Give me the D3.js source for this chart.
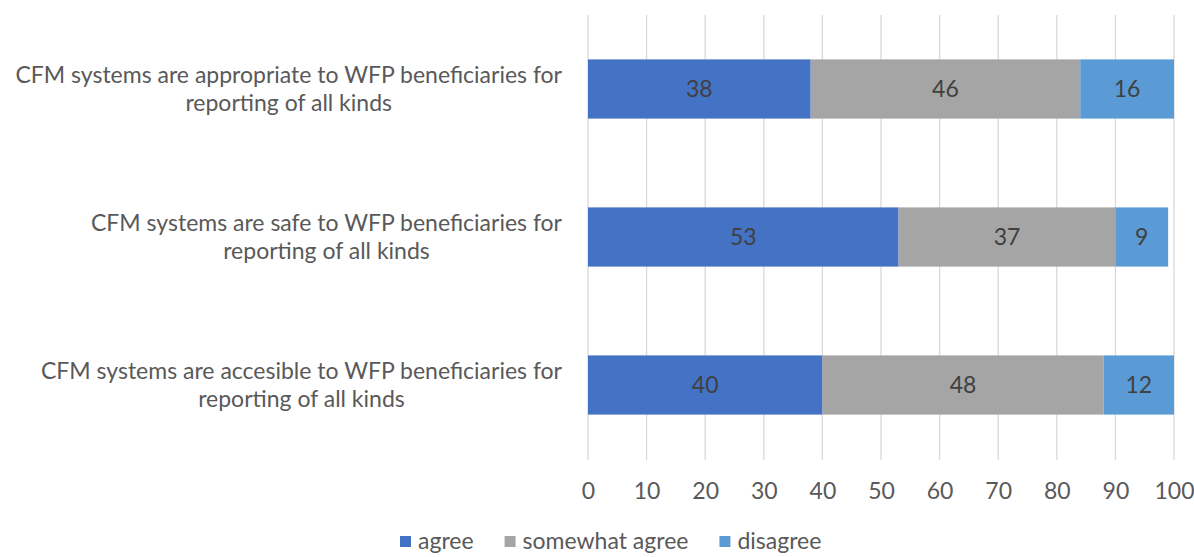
<!DOCTYPE html>
<html>
<head>
<meta charset="utf-8">
<script src="https://cdn.jsdelivr.net/npm/d3@7"></script>
<style>
  html, body { margin: 0; padding: 0; background: #fff; }
  svg { display: block; font-family: Lato, "Open Sans", sans-serif; }
</style>
</head>
<body>
<svg id="chart" width="1194" height="557"></svg>
<script>
// Survey statements (top to bottom) and the share of responses per answer.
const categories = [
  ["CFM systems are appropriate to WFP beneficiaries for", "reporting of all kinds"],
  ["CFM systems are safe to WFP beneficiaries for", "reporting of all kinds"],
  ["CFM systems are accesible to WFP beneficiaries for", "reporting of all kinds"]
];
const seriesNames = ["agree", "somewhat agree", "disagree"];
const agree = [38, 53, 40];
const somewhatAgree = [46, 37, 48];
const disagree = [16, 9, 12];
const xTicks = [0, 10, 20, 30, 40, 50, 60, 70, 80, 90, 100];
const colors = ["#4472C4", "#A5A5A5", "#5B9BD5"];

const svg = d3.select("#chart");
const plot = { left: 588, right: 1174, top: 15, bottom: 459 };
const fontSize = "23px";

const rows = categories.map((c, i) => ({
  key: i,
  label: c,
  agree: agree[i],
  somewhat: somewhatAgree[i],
  disagree: disagree[i]
}));
const stack = d3.stack().keys(["agree", "somewhat", "disagree"])(rows);

const x = d3.scaleLinear().domain([0, 100]).range([plot.left, plot.right]);
const y = d3.scaleBand().domain(rows.map(d => d.key))
  .range([plot.top, plot.bottom]).paddingInner(0.6).paddingOuter(0.3);

// vertical gridlines
svg.append("g").selectAll("line").data(xTicks).join("line")
  .attr("x1", d => x(d)).attr("x2", d => x(d))
  .attr("y1", plot.top).attr("y2", plot.bottom + 1)
  .attr("stroke", "#d9d9d9").attr("stroke-width", 1.3);

// x axis tick labels
const xAxis = d3.axisBottom(x).tickValues(xTicks).tickSize(0).tickPadding(0);
const gx = svg.append("g").attr("transform", `translate(0,${plot.bottom + 24})`).call(xAxis);
gx.select(".domain").remove();
gx.selectAll("text").attr("fill", "#595959").style("font-size", fontSize)
  .style("font-family", "Lato, sans-serif").attr("dy", "0.71em");

// stacked bars
const layers = svg.append("g").selectAll("g").data(stack).join("g")
  .attr("fill", (d, i) => colors[i]);
layers.selectAll("rect").data(d => d).join("rect")
  .attr("x", d => x(d[0]))
  .attr("width", d => x(d[1]) - x(d[0]))
  .attr("y", d => y(d.data.key))
  .attr("height", y.bandwidth());

// value labels
layers.selectAll("text").data(d => d).join("text")
  .attr("x", d => (x(d[0]) + x(d[1])) / 2)
  .attr("y", d => y(d.data.key) + y.bandwidth() / 2)
  .attr("text-anchor", "middle").attr("dy", "0.35em")
  .attr("fill", "#404040").style("font-size", fontSize)
  .text(d => d[1] - d[0]);

// category labels: two centered lines, block right-aligned to the axis
const labelRight = 562;
const lg = svg.append("g");
rows.forEach(r => {
  const cy = y(r.key) + y.bandwidth() / 2;
  const t = lg.append("text").attr("fill", "#595959").style("font-size", fontSize)
    .attr("text-anchor", "middle");
  r.label.forEach((line, j) => {
    t.append("tspan").attr("x", 0).attr("y", cy + (j - 0.5) * 28).attr("dy", "0.35em").text(line);
  });
  const w = d3.max(t.selectAll("tspan").nodes(), n => n.getComputedTextLength());
  t.selectAll("tspan").attr("x", labelRight - w / 2);
});

// legend
const legend = svg.append("g");
let lx = 400;
const ly = 541;
seriesNames.forEach((name, i) => {
  const g = legend.append("g").attr("transform", `translate(${lx},0)`);
  g.append("rect").attr("x", 0).attr("y", ly - 5).attr("width", 11).attr("height", 11).attr("fill", colors[i]);
  const t = g.append("text").attr("x", 18).attr("y", ly).attr("dy", "0.35em")
    .attr("fill", "#595959").style("font-size", fontSize).text(name);
  lx += 18 + t.node().getComputedTextLength() + 31;
});
</script>
</body>
</html>
